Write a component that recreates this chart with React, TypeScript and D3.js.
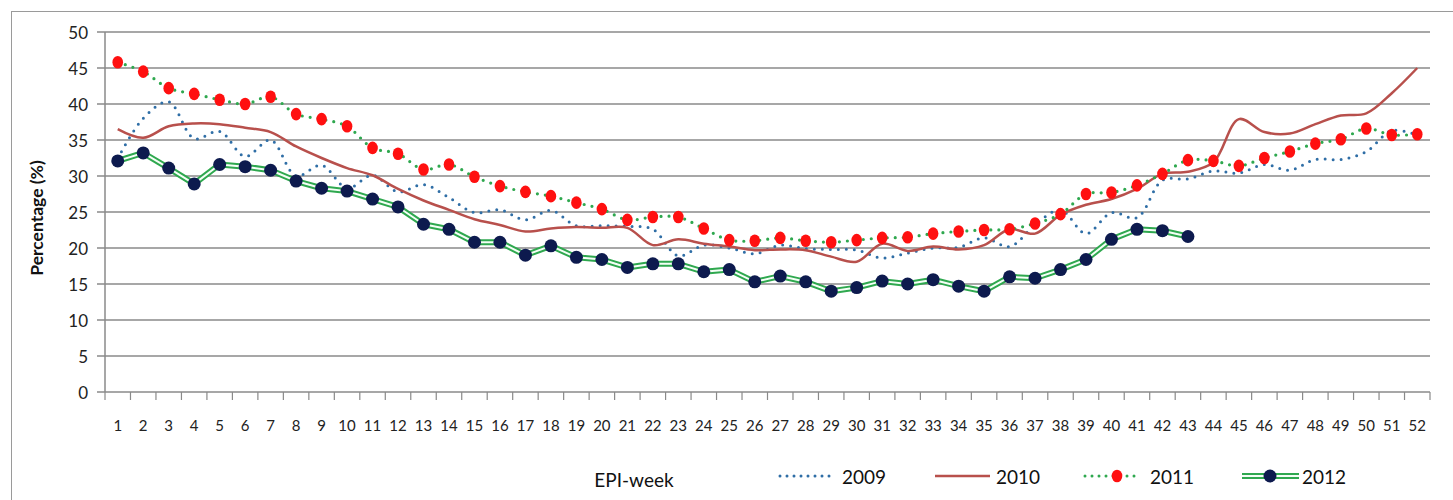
import React from "react";
import * as d3 from "d3";

const weeks: number[] = d3.range(1, 53);
const yTicks: number[] = [0, 5, 10, 15, 20, 25, 30, 35, 40, 45, 50];

const v2009: number[] = [32.4, 38.0, 40.3, 35.2, 36.2, 32.7, 35.0, 30.0, 31.5, 28.3, 30.1, 27.8, 28.8, 27.0, 24.9, 25.3, 23.9, 25.2, 23.1, 23.1, 23.0, 22.6, 18.9, 20.4, 20.0, 19.2, 20.4, 19.9, 19.8, 19.7, 18.6, 19.3, 20.0, 20.1, 21.4, 20.2, 23.2, 25.3, 22.0, 24.9, 24.2, 29.4, 29.6, 30.7, 30.4, 31.6, 30.8, 32.3, 32.3, 33.4, 36.3, 35.7];
const v2010: number[] = [36.5, 35.3, 36.9, 37.3, 37.2, 36.7, 36.1, 34.1, 32.5, 31.1, 30.1, 28.2, 26.6, 25.3, 24.0, 23.2, 22.3, 22.7, 22.9, 22.8, 22.8, 20.4, 21.2, 20.6, 20.2, 19.7, 19.8, 19.7, 18.8, 18.1, 20.6, 19.6, 20.2, 19.8, 20.4, 22.6, 22.0, 24.6, 26.0, 26.8, 28.2, 30.3, 30.6, 31.9, 37.9, 36.1, 35.9, 37.2, 38.4, 38.7, 41.5, 45.0];
const v2011: number[] = [45.8, 44.5, 42.2, 41.4, 40.6, 40.0, 41.0, 38.6, 37.9, 36.9, 33.9, 33.1, 30.9, 31.6, 29.9, 28.6, 27.8, 27.2, 26.3, 25.4, 23.9, 24.3, 24.3, 22.7, 21.1, 21.0, 21.4, 21.0, 20.8, 21.1, 21.4, 21.5, 22.0, 22.3, 22.5, 22.6, 23.4, 24.7, 27.5, 27.7, 28.7, 30.3, 32.2, 32.1, 31.4, 32.5, 33.4, 34.5, 35.1, 36.6, 35.7, 35.8];
const v2012: number[] = [32.1, 33.2, 31.1, 28.9, 31.6, 31.3, 30.8, 29.3, 28.3, 27.9, 26.8, 25.7, 23.3, 22.6, 20.8, 20.8, 19.0, 20.3, 18.7, 18.4, 17.3, 17.8, 17.8, 16.7, 17.0, 15.3, 16.1, 15.3, 14.0, 14.5, 15.4, 15.0, 15.6, 14.7, 14.0, 16.0, 15.8, 17.0, 18.4, 21.2, 22.6, 22.4, 21.6];

const seriesNames: string[] = ["2009", "2010", "2011", "2012"];

const FONT = "Lato, 'Open Sans', sans-serif";

export default function App() {
  const W = 1453;
  const H = 500;
  const left = 105;
  const right = 1430;
  const top = 32;
  const bottom = 392;

  const x = d3.scalePoint<number>().domain(weeks).range([left, right]).padding(0.5);
  const step = x.step();
  const y = d3.scaleLinear().domain([0, 50]).range([bottom, top]);

  const toPts = (arr: number[]) => arr.map((v, i) => [x(weeks[i]) as number, y(v)] as [number, number]);

  const smooth = d3.line<[number, number]>().curve(d3.curveCatmullRom.alpha(0.5));
  const straight = d3.line<[number, number]>();

  const p2009 = toPts(v2009);
  const p2010 = toPts(v2010);
  const p2011 = toPts(v2011);
  const p2012 = toPts(v2012);

  const gridColor = "#8a8a8a";
  const blue = "#2f6ea6";
  const brown = "#b8504c";
  const green = "#2fa84f";
  const red = "#ff1010";
  const navy = "#0d1a4e";

  const legY = 476;

  return (
    <svg width={W} height={H} style={{ position: "absolute", left: 0, top: 0, background: "#fff" }}>
      <rect x={11.5} y={11.5} width={W + 20} height={H + 20} fill="#fff" stroke="#9a9a9a" strokeWidth={1} />
      {yTicks.map((t) => (
        <g key={"g" + t}>
          <line x1={left - 8} x2={right} y1={y(t)} y2={y(t)} stroke={gridColor} strokeWidth={1.5} />
          <text x={88} y={y(t)} textAnchor="end" dominantBaseline="central" fontFamily={FONT} fontSize={17} fill="#222">
            {t}
          </text>
        </g>
      ))}
      <line x1={left} x2={left} y1={top} y2={bottom} stroke={gridColor} strokeWidth={1.5} />
      {d3.range(0, weeks.length + 1).map((i) => (
        <line key={"t" + i} x1={left + i * step} x2={left + i * step} y1={bottom} y2={bottom + 8} stroke={gridColor} strokeWidth={1.2} />
      ))}
      {weeks.map((w) => (
        <text key={"xl" + w} x={x(w) as number} y={431} textAnchor="middle" fontFamily={FONT} fontSize={15} fill="#222">
          {w}
        </text>
      ))}
      <text
        transform={`translate(43,${(top + bottom) / 2 + 6}) rotate(-90)`}
        textAnchor="middle"
        fontFamily={FONT}
        fontWeight="bold"
        fontSize={17.5}
        fill="#111"
      >
        Percentage (%)
      </text>
      <text x={634} y={487} textAnchor="middle" fontFamily={FONT} fontSize={19} fill="#111">
        EPI-week
      </text>

      <path d={smooth(p2009) || ""} fill="none" stroke={blue} strokeWidth={3} strokeDasharray="0 8" strokeLinecap="round" />
      <path d={smooth(p2010) || ""} fill="none" stroke={brown} strokeWidth={2.5} />
      <path d={smooth(p2011) || ""} fill="none" stroke={green} strokeWidth={3.2} strokeDasharray="0 8" strokeLinecap="round" />
      {p2011.map((p, i) => (
        <ellipse key={"m11" + i} cx={p[0]} cy={p[1]} rx={5.3} ry={6.3} fill={red} />
      ))}
      <path d={straight(p2012) || ""} fill="none" stroke={green} strokeWidth={6} strokeLinejoin="round" />
      <path d={straight(p2012) || ""} fill="none" stroke="#f4fff6" strokeWidth={2} strokeLinejoin="round" />
      {p2012.map((p, i) => (
        <circle key={"m12" + i} cx={p[0]} cy={p[1]} r={6.5} fill={navy} />
      ))}

      <g fontFamily={FONT} fontSize={19} fill="#111">
        <line x1={780} x2={835} y1={legY} y2={legY} stroke={blue} strokeWidth={3} strokeDasharray="0 7" strokeLinecap="round" />
        <text x={842} y={legY} dominantBaseline="central">{seriesNames[0]}</text>
        <line x1={935} x2={990} y1={legY} y2={legY} stroke={brown} strokeWidth={2.5} />
        <text x={996} y={legY} dominantBaseline="central">{seriesNames[1]}</text>
        <line x1={1085} x2={1140} y1={legY} y2={legY} stroke={green} strokeWidth={3} strokeDasharray="0 7" strokeLinecap="round" />
        <ellipse cx={1117} cy={legY} rx={5.3} ry={6.3} fill={red} />
        <text x={1150} y={legY} dominantBaseline="central">{seriesNames[2]}</text>
        <line x1={1242} x2={1299} y1={legY} y2={legY} stroke={green} strokeWidth={6} />
        <line x1={1242} x2={1299} y1={legY} y2={legY} stroke="#f4fff6" strokeWidth={2} />
        <circle cx={1270} cy={legY} r={6.5} fill={navy} />
        <text x={1302} y={legY} dominantBaseline="central">{seriesNames[3]}</text>
      </g>
    </svg>
  );
}
